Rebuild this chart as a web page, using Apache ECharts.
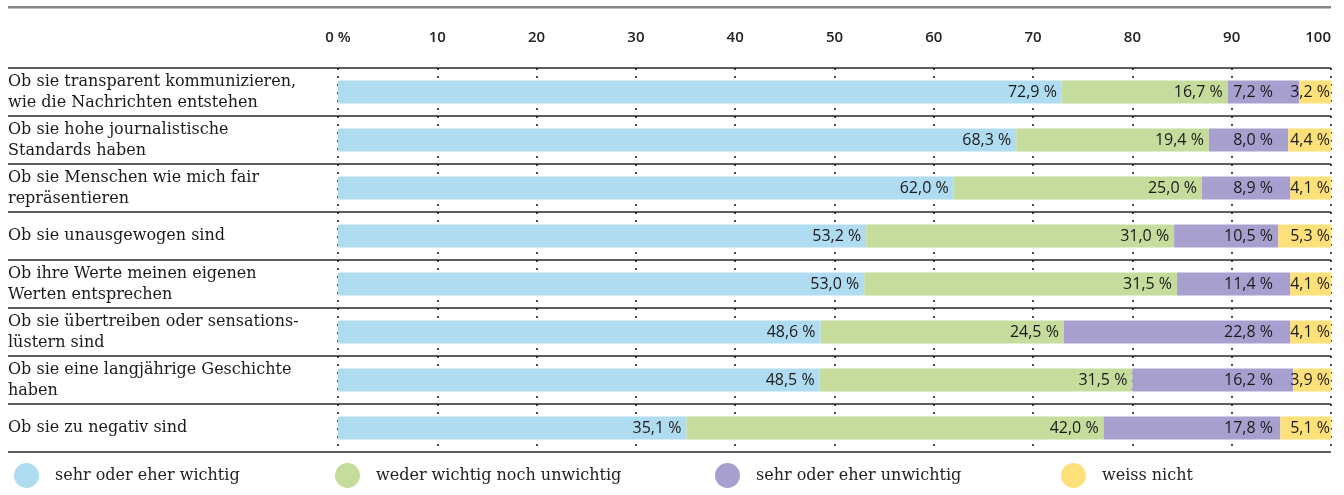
<!DOCTYPE html>
<html>
<head>
<meta charset="utf-8">
<script src="https://cdn.jsdelivr.net/npm/echarts@6/dist/echarts.min.js"></script>
<style>
  html, body { margin: 0; padding: 0; background: #fff; }
  #chart { width: 1344px; height: 495px; }
</style>
</head>
<body>
<div id="chart"></div>
<script>
const categories = [
  'Ob sie transparent kommunizieren,\nwie die Nachrichten entstehen',
  'Ob sie hohe journalistische\nStandards haben',
  'Ob sie Menschen wie mich fair\nrepräsentieren',
  'Ob sie unausgewogen sind',
  'Ob ihre Werte meinen eigenen\nWerten entsprechen',
  'Ob sie übertreiben oder sensations-\nlüstern sind',
  'Ob sie eine langjährige Geschichte\nhaben',
  'Ob sie zu negativ sind'
];
const seriesNames = ['sehr oder eher wichtig', 'weder wichtig noch unwichtig', 'sehr oder eher unwichtig', 'weiss nicht'];
const wichtig    = [72.9, 68.3, 62.0, 53.2, 53.0, 48.6, 48.5, 35.1];
const weder      = [16.7, 19.4, 25.0, 31.0, 31.5, 24.5, 31.5, 42.0];
const unwichtig  = [7.2, 8.0, 8.9, 10.5, 11.4, 22.8, 16.2, 17.8];
const weissNicht = [3.2, 4.4, 4.1, 5.3, 4.1, 4.1, 3.9, 5.1];
const colors = ['#afdcf0', '#c6dc9c', '#a79fcd', '#fee07a'];
const seriesData = [wichtig, weder, unwichtig, weissNicht];

const serif = 'DejaVu Serif';
const sans = '"Open Sans", sans-serif';

const chart = echarts.init(document.getElementById('chart'));
const fmt = v => v.toFixed(1).replace('.', ',') + ' %';

const legendLefts = [9, 330, 710, 1056];
const labelDistances = [5, 5, 5, 1];

function buildSeries(purpleOffsets) {
  return seriesNames.map((n, i) => ({
    name: n, type: 'bar', stack: 'total', xAxisIndex: 1, yAxisIndex: 1,
    data: seriesData[i].map((v, j) => {
      if (i === 2 && purpleOffsets) {
        return { value: v, label: { position: [purpleOffsets[j], '50%'], align: 'right', verticalAlign: 'middle' } };
      }
      return v;
    }),
    barWidth: 23,
    itemStyle: { color: colors[i] },
    label: {
      show: true, position: 'insideRight', distance: labelDistances[i],
      fontFamily: sans, fontSize: 16, color: '#1a1a1a',
      formatter: p => fmt(p.value)
    }
  }));
}

chart.setOption({
  animation: false,
  graphic: [{
    type: 'rect', left: 8, top: 6, shape: { width: 1323, height: 2.5 },
    style: { fill: '#858585' }, silent: true
  }],
  legend: seriesNames.map((n, i) => ({
    data: [n], left: legendLefts[i], top: 458, icon: 'circle',
    itemWidth: 25, itemHeight: 25,
    textStyle: { fontFamily: serif, fontSize: 16, color: '#222', padding: [0, 0, 0, 11] },
    selectedMode: false
  })),
  grid: [
    { left: 8, right: 13, top: 68, height: 384 },
    { left: 338, right: 13, top: 68, height: 384 }
  ],
  xAxis: [
    { gridIndex: 0, type: 'value', min: 0, max: 100, show: false },
    {
      gridIndex: 1, type: 'value', min: 0, max: 100, interval: 10, position: 'top',
      axisLine: { show: false }, axisTick: { show: false },
      axisLabel: {
        margin: 23, fontFamily: sans, fontSize: 15, fontWeight: 600, color: '#222',
        formatter: v => v === 0 ? '0 %' : String(v), alignMaxLabel: 'right'
      },
      splitLine: { show: true, lineStyle: { type: [2, 6], color: '#111', width: 1.5 } }
    }
  ],
  yAxis: [
    {
      gridIndex: 0, type: 'category', data: categories, inverse: true,
      axisLine: { show: false }, axisTick: { show: false }, axisLabel: { show: false },
      splitLine: { show: true, lineStyle: { color: '#2a2a2a', width: 1.6 } }
    },
    {
      gridIndex: 1, type: 'category', data: categories, inverse: true,
      axisLine: { show: false }, axisTick: { show: false },
      axisLabel: {
        align: 'left', margin: 330, fontFamily: serif, fontSize: 16, lineHeight: 21, color: '#1a1a1a'
      },
      splitLine: { show: false }
    }
  ],
  series: buildSeries(null)
});

// Purple labels are right-aligned in a common column left of the "weiss nicht" labels
const xAt = v => chart.convertToPixel({ xAxisIndex: 1 }, v);
const column = xAt(100) - 58;
const purpleOffsets = wichtig.map((w, j) => column - xAt(w + weder[j]));
chart.setOption({ series: buildSeries(purpleOffsets) });
</script>
</body>
</html>
